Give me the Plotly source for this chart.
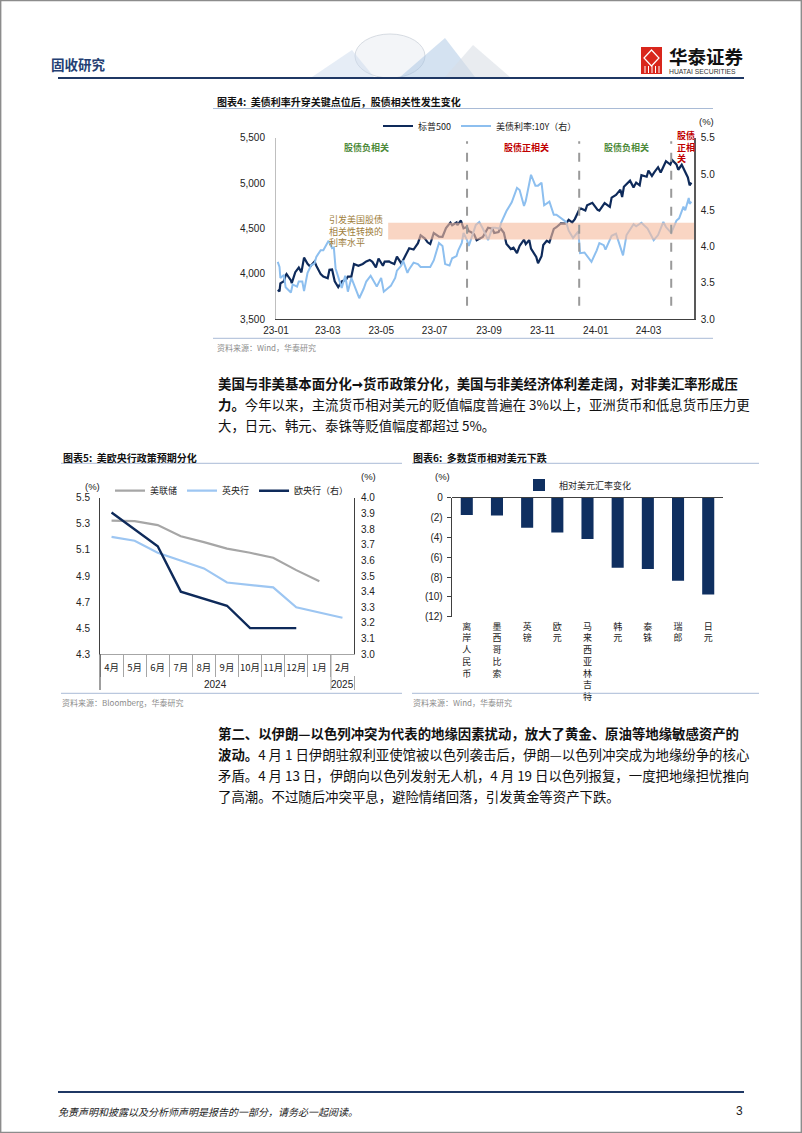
import plotly.graph_objects as go

W, H = 802, 1133
def X(px): return px / W
def Y(py): return 1 - py / H

CJK = "Noto Sans CJK SC, Noto Sans, sans-serif"
NUM = "Liberation Sans, Arial, sans-serif"

# ---------------- Chart 4 data (S&P 500 and US 10Y) ----------------
spx_dates = ["2023-01-03","2023-01-05","2023-01-06","2023-01-10","2023-01-12","2023-01-13","2023-01-18","2023-01-19",
             "2023-01-23","2023-01-26","2023-01-27","2023-01-30","2023-02-02","2023-02-06","2023-02-09","2023-02-14",
             "2023-02-16","2023-02-21","2023-02-24","2023-03-01","2023-03-03","2023-03-06","2023-03-09","2023-03-13",
             "2023-03-15","2023-03-17","2023-03-22","2023-03-24","2023-03-28","2023-03-31","2023-04-05","2023-04-10",
             "2023-04-14","2023-04-18","2023-04-21","2023-04-25","2023-04-28","2023-05-03","2023-05-05","2023-05-10",
             "2023-05-12","2023-05-16","2023-05-19","2023-05-24","2023-05-26","2023-06-02","2023-06-07","2023-06-12",
             "2023-06-15","2023-06-20","2023-06-23","2023-06-26","2023-06-30","2023-07-06","2023-07-10","2023-07-14",
             "2023-07-19","2023-07-21","2023-07-26","2023-07-27","2023-07-31","2023-08-03","2023-08-07","2023-08-09",
             "2023-08-11","2023-08-15","2023-08-18","2023-08-22","2023-08-25","2023-08-31","2023-09-05","2023-09-07",
             "2023-09-12","2023-09-14","2023-09-18","2023-09-21","2023-09-26","2023-09-29","2023-10-03","2023-10-06",
             "2023-10-11","2023-10-13","2023-10-17","2023-10-19","2023-10-23","2023-10-25","2023-10-27","2023-10-31",
             "2023-11-02","2023-11-06","2023-11-09","2023-11-14","2023-11-17","2023-11-22","2023-11-28","2023-12-01",
             "2023-12-05","2023-12-08","2023-12-13","2023-12-15","2023-12-20","2023-12-22","2023-12-28","2024-01-03",
             "2024-01-05","2024-01-09","2024-01-11","2024-01-17","2024-01-19","2024-01-24","2024-01-29","2024-01-31",
             "2024-02-02","2024-02-09","2024-02-13","2024-02-16","2024-02-20","2024-02-22","2024-02-28","2024-03-01",
             "2024-03-05","2024-03-08","2024-03-12","2024-03-15","2024-03-21","2024-03-26","2024-03-28","2024-04-02",
             "2024-04-04","2024-04-08","2024-04-10","2024-04-12","2024-04-15","2024-04-17","2024-04-19"]
spx_vals = [3824,3808,3895,3919,3983,3999,3928,3898,
            4019,4060,4070,4017,4179,4111,4081,4136,
            4090,3997,3970,3951,4045,4048,3918,3855,
            3892,3917,3937,3971,3971,4109,4090,4109,
            4137,4154,4133,4071,4169,4090,4136,4137,
            4124,4109,4191,4115,4151,4282,4268,4338,
            4425,4389,4348,4328,4450,4411,4409,4505,
            4565,4536,4566,4537,4588,4502,4518,4468,
            4464,4437,4370,4388,4406,4508,4497,4451,
            4462,4505,4453,4330,4274,4288,4229,4308,
            4377,4327,4373,4278,4217,4186,4117,4194,
            4318,4365,4347,4496,4514,4557,4555,4595,
            4567,4604,4707,4719,4698,4755,4783,4705,
            4697,4756,4780,4739,4840,4869,4928,4846,
            4959,5027,4953,5006,4976,5087,5070,5137,
            5079,5124,5175,5117,5241,5204,5254,5206,
            5147,5202,5161,5123,5062,4975,5005]

ust_dates = ["2023-01-03","2023-01-05","2023-01-06","2023-01-10","2023-01-12","2023-01-18","2023-01-20","2023-01-25",
             "2023-01-27","2023-01-31","2023-02-02","2023-02-06","2023-02-10","2023-02-14","2023-02-16","2023-02-21",
             "2023-02-24","2023-03-02","2023-03-06","2023-03-08","2023-03-10","2023-03-13","2023-03-17","2023-03-21",
             "2023-03-24","2023-03-28","2023-03-31","2023-04-06","2023-04-11","2023-04-14","2023-04-19","2023-04-26",
             "2023-05-01","2023-05-04","2023-05-10","2023-05-12","2023-05-17","2023-05-19","2023-05-24","2023-05-26",
             "2023-05-31","2023-06-02","2023-06-07","2023-06-12","2023-06-15","2023-06-21","2023-06-26","2023-06-30",
             "2023-07-06","2023-07-10","2023-07-13","2023-07-18","2023-07-21","2023-07-26","2023-07-28","2023-08-01",
             "2023-08-03","2023-08-07","2023-08-09","2023-08-14","2023-08-17","2023-08-21","2023-08-25","2023-08-31",
             "2023-09-05","2023-09-08","2023-09-13","2023-09-15","2023-09-21","2023-09-27","2023-10-03","2023-10-06",
             "2023-10-11","2023-10-13","2023-10-19","2023-10-24","2023-10-27","2023-10-31","2023-11-03","2023-11-09",
             "2023-11-14","2023-11-17","2023-11-21","2023-11-28","2023-12-01","2023-12-06","2023-12-12","2023-12-14",
             "2023-12-19","2023-12-27","2024-01-02","2024-01-05","2024-01-10","2024-01-12","2024-01-19","2024-01-24",
             "2024-02-01","2024-02-05","2024-02-13","2024-02-16","2024-02-22","2024-02-29","2024-03-07","2024-03-12",
             "2024-03-18","2024-03-21","2024-03-27","2024-04-02","2024-04-05","2024-04-10","2024-04-12","2024-04-16",
             "2024-04-17","2024-04-19"]
ust_vals = [3.79,3.72,3.57,3.61,3.44,3.37,3.48,3.45,
            3.52,3.52,3.39,3.64,3.74,3.77,3.86,3.95,
            3.95,4.08,3.98,3.99,3.70,3.57,3.43,3.60,
            3.38,3.57,3.48,3.29,3.42,3.52,3.60,3.45,
            3.57,3.38,3.44,3.46,3.57,3.67,3.74,3.81,
            3.64,3.69,3.78,3.76,3.72,3.72,3.72,3.81,
            4.05,4.01,3.76,3.74,3.84,3.87,3.95,4.05,
            4.19,4.09,4.01,4.19,4.30,4.34,4.25,4.09,
            4.26,4.26,4.25,4.33,4.49,4.61,4.81,4.78,
            4.56,4.63,4.99,4.84,4.84,4.88,4.57,4.62,
            4.44,4.44,4.40,4.34,4.22,4.12,4.21,3.91,
            3.92,3.79,3.95,4.05,4.02,3.96,4.15,4.18,
            3.88,4.16,4.31,4.28,4.33,4.25,4.09,4.16,
            4.34,4.27,4.19,4.36,4.39,4.55,4.50,4.67,
            4.59,4.62]

regime_breaks = ["2023-08-07", "2023-12-13", "2024-03-27"]
band_start, band_end = "2023-05-09", "2024-04-22"
band_low, band_high = 4.10, 4.33
c4_xrange = ["2023-01-01", "2024-04-22"]

# ---------------- Chart 5 data ----------------
months5 = ["4月", "5月", "6月", "7月", "8月", "9月", "10月", "11月", "12月", "1月", "2月"]
fed = [5.325, 5.32, 5.29, 5.205, 5.16, 5.11, 5.078, 5.04, 4.945, 4.86, None]
boe = [5.20, 5.17, 5.078, 5.017, 4.958, 4.85, 4.83, 4.813, 4.66, 4.62, 4.58]
ecb = [3.905, 3.796, 3.69, 3.40, 3.353, 3.31, 3.167, 3.167, 3.167, None, None]
years5 = ["2024", "2025"]

# ---------------- Chart 6 data ----------------
currencies = ["离岸人民币", "墨西哥比索", "英镑", "欧元", "马来西亚林吉特", "韩元", "泰铢", "瑞郎", "日元"]
fx_change = [-1.75, -1.80, -3.03, -3.50, -4.17, -7.06, -7.19, -8.37, -9.75]
c6_tickvals = [0, -2, -4, -6, -8, -10, -12]
c6_ticktext = ["0", "(2)", "(4)", "(6)", "(8)", "(10)", "(12)"]

NAVY = "#0E2A5A"
LBLUE = "#8DBFEF"
GRAY = "#A6A6A6"

fig = go.Figure()

# Chart 4 traces
fig.add_trace(go.Scatter(x=ust_dates, y=ust_vals, name="美债利率:10Y（右）", mode="lines",
                         line=dict(color=LBLUE, width=2), xaxis="x", yaxis="y2",
                         legend="legend", legendrank=2))
fig.add_trace(go.Scatter(x=spx_dates, y=spx_vals, name="标普500", mode="lines",
                         line=dict(color=NAVY, width=2.2), xaxis="x", yaxis="y",
                         legend="legend", legendrank=1))

# Chart 5 traces
fig.add_trace(go.Scatter(x=months5, y=fed, name="美联储", mode="lines",
                         line=dict(color=GRAY, width=2.2), xaxis="x3", yaxis="y3", legend="legend2"))
fig.add_trace(go.Scatter(x=months5, y=boe, name="英央行", mode="lines",
                         line=dict(color="#9DC6F2", width=2.2), xaxis="x3", yaxis="y3", legend="legend2"))
fig.add_trace(go.Scatter(x=months5, y=ecb, name="欧央行（右）", mode="lines",
                         line=dict(color=NAVY, width=2.4), xaxis="x3", yaxis="y4", legend="legend2"))

# Chart 6 trace
fig.add_trace(go.Bar(x=currencies, y=fx_change, name="相对美元汇率变化", marker_color="#0F2F60",
                     marker_line_width=0, width=0.4, xaxis="x5", yaxis="y5", legend="legend3"))

tickfont = dict(family=NUM, size=10, color="#222")

fig.update_layout(
    template="none",
    width=W, height=H, autosize=False,
    margin=dict(l=0, r=0, t=0, b=0, pad=0),
    paper_bgcolor="white", plot_bgcolor="rgba(0,0,0,0)",
    font=dict(family=CJK, size=10, color="#222"),
    showlegend=True,
    # chart 4
    xaxis=dict(domain=[X(276), X(694)], anchor="y", type="date", range=c4_xrange,
               tick0="2023-01-01", dtick="M2", tickformat="%y-%m", showgrid=False, zeroline=False,
               showline=True, linecolor="#404040", linewidth=1, ticks="", tickfont=tickfont,
               ticklabelstandoff=2, automargin=False),
    yaxis=dict(domain=[Y(319.3), Y(137.7)], anchor="x", range=[3500, 5500], dtick=500, tickformat=",",
               showgrid=False, zeroline=False, showline=True, linecolor="#bfbfbf", linewidth=1,
               ticks="", tickfont=tickfont, ticklabelstandoff=8, automargin=False),
    yaxis2=dict(overlaying="y", side="right", anchor="x", range=[3.0, 5.5], dtick=0.5, tickformat=".1f",
                showgrid=False, zeroline=False, showline=True, linecolor="#595959", linewidth=1.6,
                ticks="", tickfont=tickfont, ticklabelstandoff=3, automargin=False),
    # chart 5
    xaxis3=dict(domain=[X(100), X(354)], anchor="y3", type="category", categoryorder="array",
                categoryarray=months5, range=[-0.5, 10.5], tickson="boundaries", ticks="outside",
                ticklen=22, tickcolor="#a6a6a6", showline=True, linecolor="#a6a6a6", showgrid=False,
                tickangle=0, tickfont=dict(family=CJK, size=9.5, color="#222"), ticklabelstandoff=4,
                automargin=False),
    yaxis3=dict(domain=[Y(654.3), Y(497.7)], anchor="x3", range=[4.3, 5.5], tick0=4.3, dtick=0.2,
                tickformat=".1f", showgrid=False, zeroline=False, showline=True, linecolor="#404040",
                ticks="", tickfont=tickfont, ticklabelstandoff=7, automargin=False),
    yaxis4=dict(overlaying="y3", side="right", anchor="x3", range=[3.0, 4.0], tick0=3.0, dtick=0.1,
                tickformat=".1f", showgrid=False, zeroline=False, showline=True, linecolor="#404040",
                ticks="", tickfont=tickfont, ticklabelstandoff=4, automargin=False),
    # chart 6
    xaxis5=dict(domain=[X(451.7), X(723.3)], anchor="y5", type="category", tickvals=currencies,
                ticktext=["<br>".join(c) for c in currencies], showline=False, ticks="", showgrid=False,
                tickangle=0, tickfont=dict(family=CJK, size=9, color="#222"), ticklabelstandoff=3,
                automargin=False),
    yaxis5=dict(domain=[Y(616.7), Y(497.7)], anchor="x5", range=[-12, 0], tickvals=c6_tickvals,
                ticktext=c6_ticktext, showgrid=False, zeroline=True, zerolinecolor="#404040",
                zerolinewidth=1, showline=True, linecolor="#404040", ticks="outside", ticklen=4,
                tickcolor="#404040", tickfont=tickfont, ticklabelstandoff=2, automargin=False),
    legend=dict(orientation="h", x=X(378), y=Y(126), xanchor="left", yanchor="middle",
                font=dict(family=CJK, size=9, color="#222"),
                bgcolor="rgba(0,0,0,0)", itemwidth=30, traceorder="normal"),
    legend2=dict(orientation="h", x=X(110), y=Y(490.7), xanchor="left", yanchor="middle",
                 font=dict(family=CJK, size=9, color="#222"),
                 bgcolor="rgba(0,0,0,0)", itemwidth=30),
    legend3=dict(orientation="h", x=X(519), y=Y(485), xanchor="left", yanchor="middle",
                 font=dict(family=CJK, size=9, color="#222"), bgcolor="rgba(0,0,0,0)", itemwidth=30),
)

shapes = []
ann = []

def hline(x0, x1, y, color, width=1):
    shapes.append(dict(type="line", xref="paper", yref="paper", x0=X(x0), x1=X(x1), y0=Y(y), y1=Y(y),
                       line=dict(color=color, width=width)))

def vline(x, y0, y1, color, width=1):
    shapes.append(dict(type="line", xref="paper", yref="paper", x0=X(x), x1=X(x), y0=Y(y0), y1=Y(y1),
                       line=dict(color=color, width=width)))

def txt(px, py, s, size=10, color="#222", xanchor="left", yanchor="middle", family=CJK, align="left"):
    ann.append(dict(x=X(px), y=Y(py), xref="paper", yref="paper", text=s, showarrow=False,
                    xanchor=xanchor, yanchor=yanchor, align=align, borderpad=0,
                    font=dict(size=size, color=color, family=family)))

# page border
shapes.append(dict(type="rect", xref="paper", yref="paper", x0=0.0008, x1=0.9992, y0=0.0005, y1=0.9995,
                   line=dict(color="#8c8c8c", width=1.5)))

# header decoration (faint globe + triangles)
shapes.append(dict(type="circle", xref="paper", yref="paper", x0=X(355), x1=X(425), y0=Y(78), y1=Y(34),
                   line=dict(color="#d6dbe2", width=1), fillcolor="rgba(235,238,243,0.6)"))
shapes.append(dict(type="path", xref="paper", yref="paper",
                   path=f"M {X(312)} {Y(77)} L {X(352)} {Y(50)} L {X(374)} {Y(77)} Z",
                   line=dict(width=0), fillcolor="rgba(200,215,235,0.45)"))
shapes.append(dict(type="path", xref="paper", yref="paper",
                   path=f"M {X(400)} {Y(77)} L {X(445)} {Y(38)} L {X(475)} {Y(77)} Z",
                   line=dict(width=0), fillcolor="rgba(160,190,225,0.45)"))
shapes.append(dict(type="path", xref="paper", yref="paper",
                   path=f"M {X(445)} {Y(77)} L {X(473)} {Y(45)} L {X(510)} {Y(77)} Z",
                   line=dict(width=0), fillcolor="rgba(215,220,228,0.55)"))

# header
txt(50, 64, "<b>固收研究</b>", size=13.5, color="#243F73")
hline(58, 744, 78, "#1F3864", 2.2)
shapes.append(dict(type="rect", xref="paper", yref="paper", x0=X(641), x1=X(662), y0=Y(74), y1=Y(47),
                   line=dict(width=0), fillcolor="#D9261C"))
shapes.append(dict(type="path", xref="paper", yref="paper",
                   path=f"M {X(644)} {Y(58)} L {X(651.5)} {Y(50)} L {X(659)} {Y(58)} L {X(651.5)} {Y(66)} Z",
                   line=dict(color="white", width=1.2), fillcolor="rgba(0,0,0,0)"))
for xx in (645, 648.5, 652, 655.5, 659):
    vline(xx, 66, 73, "white", 1)
txt(668, 56, "<b>华泰证券</b>", size=18.5, color="#111")
txt(668, 71, "HUATAI SECURITIES", size=6.8, color="#333", family=NUM)

# ---- chart 4 furniture
LINEC = "#A9BBD6"
txt(216, 101.7, "<b>图表4:  美债利率升穿关键点位后，股债相关性发生变化</b>", size=10, color="#111")
hline(213, 713, 108.5, LINEC)
hline(213, 713, 338.3, LINEC)
txt(216, 347, "资料来源：Wind，华泰研究", size=8, color="#8c8c8c")
txt(698, 121.7, "(%)", size=9.5, family=NUM)
txt(366.7, 147, "<b>股债负相关</b>", size=9, color="#4E8A3A", xanchor="center")
txt(526, 147, "<b>股债正相关</b>", size=9, color="#C00000", xanchor="center")
txt(626.7, 147, "<b>股债负相关</b>", size=9, color="#4E8A3A", xanchor="center")
txt(676, 128, "<b>股债<br>正相<br>关</b>", size=9, color="#C00000", yanchor="top")
txt(328, 212, "引发美国股债<br>相关性转换的<br>利率水平", size=9, color="#A07E3C", yanchor="top")

# band and regime dividers (data coordinates)
shapes.append(dict(type="rect", xref="x", yref="y2", x0=band_start, x1=band_end, y0=band_low, y1=band_high,
                   line=dict(width=0), fillcolor="rgba(245,188,158,0.62)", layer="above"))
for d in regime_breaks:
    shapes.append(dict(type="line", xref="x", yref="y domain", x0=d, x1=d, y0=0.075, y1=0.98,
                       line=dict(color="#9a9a9a", width=2, dash="dash"), layer="above"))

# ---- chart 5 furniture
txt(61.7, 457.3, "<b>图表5:  美欧央行政策预期分化</b>", size=10, color="#111")
hline(61, 402, 463.3, LINEC)
hline(61, 402, 693.3, LINEC)
txt(61, 702, "资料来源：Bloomberg，华泰研究", size=8, color="#8c8c8c")
txt(84, 486, "(%)", size=9.5, family=NUM)
txt(360, 476.5, "(%)", size=9.5, family=NUM)
vline(100, 654, 690, "#404040", 1)
vline(331, 654, 690, "#a6a6a6", 1)
vline(354.5, 676, 690, "#a6a6a6", 1)
txt(215.5, 684, years5[0], size=10, family=NUM, xanchor="center")
txt(342.7, 684, years5[1], size=10, family=NUM, xanchor="center")

# ---- chart 6 furniture
txt(412.3, 457.3, "<b>图表6:  多数货币相对美元下跌</b>", size=10, color="#111")
hline(412, 759, 463.3, LINEC)
hline(412, 759, 693.3, LINEC)
txt(412, 702, "资料来源：Wind，华泰研究", size=8, color="#8c8c8c")
txt(434, 476.7, "(%)", size=9.5, family=NUM)

# ---- body text
BODY = 13.4
p1 = ["<b>美国与非美基本面分化➞货币政策分化，美国与非美经济体利差走阔，对非美汇率形成压</b>",
      "<b>力。</b>今年以来，主流货币相对美元的贬值幅度普遍在 3%以上，亚洲货币和低息货币压力更",
      "大，日元、韩元、泰铢等贬值幅度都超过 5%。"]
for i, s in enumerate(p1):
    txt(217, 383 + i * 20.8, s, size=BODY, color="#111")
p2 = ["<b>第二、以伊朗—以色列冲突为代表的地缘因素扰动，放大了黄金、原油等地缘敏感资产的</b>",
      "<b>波动。</b>4 月 1 日伊朗驻叙利亚使馆被以色列袭击后，伊朗—以色列冲突成为地缘纷争的核心",
      "矛盾。4 月 13 日，伊朗向以色列发射无人机，4 月 19 日以色列报复，一度把地缘担忧推向",
      "了高潮。不过随后冲突平息，避险情绪回落，引发黄金等资产下跌。"]
for i, s in enumerate(p2):
    txt(217, 733 + i * 21, s, size=BODY, color="#111")

# ---- footer
hline(58, 744, 1092, "#1F3864", 2.2)
txt(57, 1111, "<i>免责声明和披露以及分析师声明是报告的一部分，请务必一起阅读。</i>", size=10, color="#222")
txt(744, 1111, "3", size=12, family=NUM, xanchor="right")

fig.update_layout(shapes=shapes, annotations=ann)
fig.write_html("out.html", post_script="document.body.style.margin='0px';document.body.style.overflow='hidden';")
